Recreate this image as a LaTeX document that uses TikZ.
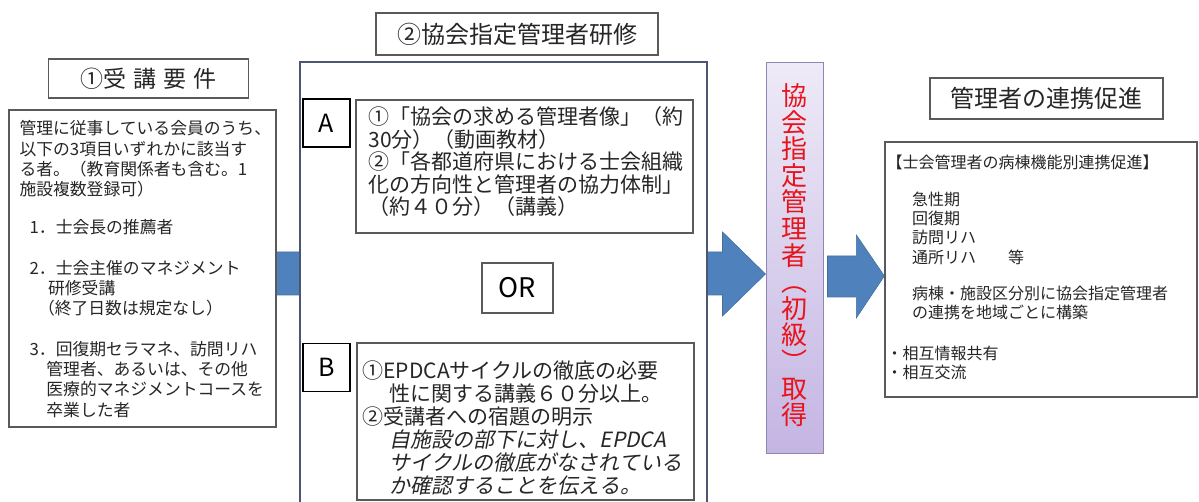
\documentclass[tikz,border=0pt]{standalone}
\usepackage{fontspec}
\setmainfont{Noto Sans CJK JP}
\newfontfamily\jpslant{Noto Sans CJK JP}[FakeSlant=0.2]
\usetikzlibrary{positioning,backgrounds}
\definecolor{arrowblue}{HTML}{4F81BD}
\definecolor{arrowedge}{HTML}{41709F}
\definecolor{framegray}{HTML}{5A5A5A}
\definecolor{panelblue}{HTML}{4A5672}
\definecolor{lavtop}{HTML}{EEEAF7}
\definecolor{lavbot}{HTML}{C4B5E3}
\definecolor{lavedge}{HTML}{9086B6}
\definecolor{jpred}{HTML}{E8141C}
\definecolor{inkgray}{HTML}{262626}

\tikzset{
  titlebox/.style={draw=framegray,line width=1.2pt,fill=white,inner sep=0pt,text=inkgray,font=\fontsize{24}{24}\selectfont},
  framebox/.style={draw=framegray,line width=1.3pt,fill=white,inner sep=0pt},
  tagbox/.style={draw=black,line width=1.7pt,fill=white,inner sep=0pt,minimum width=47pt,minimum height=48pt,font=\fontsize{25}{25}\selectfont},
  bodytext/.style={anchor=north west,align=left,inner sep=0pt,text=inkgray},
  blockarr/.style={fill=arrowblue,draw=arrowedge,line width=0.6pt},
}

\begin{document}
\begin{tikzpicture}[x=1pt,y=-1pt]
\useasboundingbox (0,0) rectangle (1199,502);

% (1) requirements
\node[titlebox,font=\fontsize{23}{23}\selectfont,minimum width=200pt,minimum height=39pt] (reqtitle) at (148.5,78.5) {①受\hspace{0.3em}講\hspace{0.3em}要\hspace{0.3em}件};
\node[framebox,minimum width=267pt,minimum height=317pt] (req) at (142.5,268.5) {};
\node[bodytext,font=\fontsize{16.8}{20.3}\selectfont,below right=11pt and 11pt of req.north west] (reqtext)
  {管理に従事している会員のうち、\\以下の3項目いずれかに該当す\\る者。（教育関係者も含む。1\\施設複数登録可）\\[18pt]
   \hspace{0.6em}1．士会長の推薦者\\[20pt]
   \hspace{0.6em}2．士会主催のマネジメント\\\hspace{1.7em}研修受講\\\hspace{1.1em}（終了日数は規定なし）\\[20pt]
   \hspace{0.6em}3．回復期セラマネ、訪問リハ\\\hspace{1.6em}管理者、あるいは、その他\\\hspace{1.6em}医療的マネジメントコースを\\\hspace{1.6em}卒業した者};

% (2) training
\node[titlebox,minimum width=282pt,minimum height=42pt] (coursetitle) at (517,34) {②協会指定管理者研修};
\node[draw=panelblue,line width=1.8pt,fill=white,minimum width=407pt,minimum height=470pt] (course) at (503.5,297) {};
\node[tagbox] (tagA) at (326.5,123) {A};
\node[framebox,minimum width=337pt,minimum height=133pt] (itemA) at (524.5,166.5) {};
\node[bodytext,font=\fontsize{21}{22.5}\selectfont,below right=7pt and 13pt of itemA.north west] (itemAtext)
  {①「協会の求める管理者像」（約\\30分）（動画教材）\\②「各都道府県における士会組織\\化の方向性と管理者の協力体制」\\（約４０分）（講義）};
\node[framebox,minimum width=71pt,minimum height=50pt,font=\fontsize{27}{27}\selectfont] (orbox) at (517.5,288) {OR};
\node[tagbox] (tagB) at (326.5,367.5) {B};
\node[framebox,minimum width=337pt,minimum height=157pt] (itemB) at (525.5,421.5) {};
\node[bodytext,font=\fontsize{21}{23}\selectfont,below right=18pt and 6pt of itemB.north west] (itemBtext)
  {①EPDCAサイクルの徹底の必要\\\hspace{1.3em}性に関する講義６０分以上。\\②受講者への宿題の明示\\
   \hspace{1.3em}{\jpslant 自施設の部下に対し、EPDCA}\\\hspace{1.3em}{\jpslant サイクルの徹底がなされている}\\\hspace{1.3em}{\jpslant か確認することを伝える。}};

% certification
\node[draw=lavedge,line width=1pt,top color=lavtop,bottom color=lavbot,minimum width=57pt,minimum height=390pt] (cert) at (794.5,258) {};
\node[text=jpred,align=center,inner sep=0pt,font=\fontsize{26}{26.6}\selectfont,below=21pt of cert.north] (certtext)
  {協\\会\\指\\定\\管\\理\\者\\︵\\初\\級\\︶\\取\\得};

% cooperation
\node[titlebox,minimum width=233pt,minimum height=41pt] (linktitle) at (1046.5,98.5) {管理者の連携促進};
\node[framebox,minimum width=312pt,minimum height=255pt] (link) at (1041,269.5) {};
\node[bodytext,font=\fontsize{16}{19.3}\selectfont,below right=13pt and 2pt of link.north west] (linktext)
  {【士会管理者の病棟機能別連携促進】\\[18pt]
   \hspace{1.6em}急性期\\\hspace{1.6em}回復期\\\hspace{1.6em}訪問リハ\\\hspace{1.6em}通所リハ　　等\\[17pt]
   \hspace{1.6em}病棟・施設区分別に協会指定管理者\\\hspace{1.6em}の連携を地域ごとに構築\\[21pt]
   ・相互情報共有\\・相互交流};

% block arrows
\begin{scope}[on background layer]
\filldraw[blockarr] ([yshift=16.5pt]req.east) -- ([xshift=-43pt,yshift=6pt]cert.west) -- ([xshift=-43pt,yshift=26pt]cert.west)
  -- ([yshift=-16pt]cert.west) -- ([xshift=-43pt,yshift=-58pt]cert.west) -- ([xshift=-43pt,yshift=-37pt]cert.west)
  -- ([yshift=-26.5pt]req.east) -- cycle;
\filldraw[blockarr] ([xshift=4pt,yshift=2pt]cert.east) -- ([xshift=-28pt,yshift=13.5pt]link.west) -- ([xshift=-28pt,yshift=34.5pt]link.west)
  -- ([yshift=-6.5pt]link.west) -- ([xshift=-28pt,yshift=-48.5pt]link.west) -- ([xshift=-28pt,yshift=-27.5pt]link.west)
  -- ([xshift=4pt,yshift=-39pt]cert.east) -- cycle;
\end{scope}
\end{tikzpicture}
\end{document}
